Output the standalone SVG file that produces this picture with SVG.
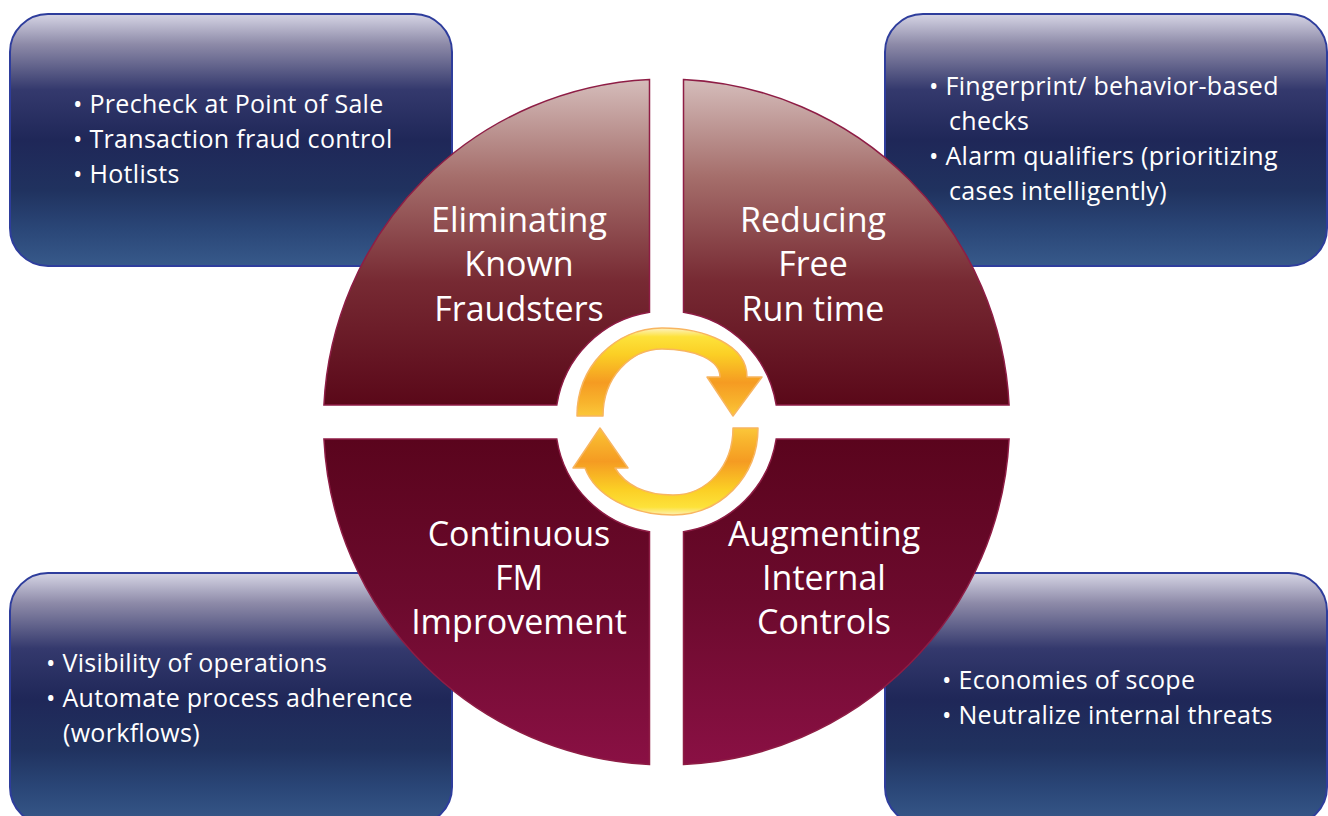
<svg xmlns="http://www.w3.org/2000/svg" width="1328" height="816" viewBox="0 0 1328 816">
<defs>
<linearGradient id="boxGrad" x1="0" y1="0" x2="0" y2="1">
<stop offset="0" stop-color="#d6d5e5"/>
<stop offset="0.12" stop-color="#8d8aa8"/>
<stop offset="0.3" stop-color="#34396d"/>
<stop offset="0.5" stop-color="#1f2758"/>
<stop offset="0.7" stop-color="#20325f"/>
<stop offset="0.85" stop-color="#2a4677"/>
<stop offset="1" stop-color="#37598a"/>
</linearGradient>
<linearGradient id="topQ" gradientUnits="userSpaceOnUse" x1="0" y1="79" x2="0" y2="405">
<stop offset="0" stop-color="#d5bdbb"/>
<stop offset="0.3" stop-color="#a56e6b"/>
<stop offset="0.62" stop-color="#772a33"/>
<stop offset="1" stop-color="#5a0819"/>
</linearGradient>
<linearGradient id="botQ" gradientUnits="userSpaceOnUse" x1="0" y1="439" x2="0" y2="765">
<stop offset="0" stop-color="#5a041d"/>
<stop offset="0.5" stop-color="#6c0a2d"/>
<stop offset="1" stop-color="#8a1044"/>
</linearGradient>
<linearGradient id="arrUp" gradientUnits="userSpaceOnUse" x1="0" y1="328" x2="0" y2="416">
<stop offset="0" stop-color="#fdf2c4"/>
<stop offset="0.1" stop-color="#fde23a"/>
<stop offset="0.3" stop-color="#fbcf25"/>
<stop offset="0.62" stop-color="#f59b22"/>
<stop offset="0.85" stop-color="#f8b42d"/>
<stop offset="1" stop-color="#fbc73a"/>
</linearGradient>
<linearGradient id="arrDn" gradientUnits="userSpaceOnUse" x1="0" y1="516" x2="0" y2="428">
<stop offset="0" stop-color="#fdf2c4"/>
<stop offset="0.1" stop-color="#fde23a"/>
<stop offset="0.3" stop-color="#fbcf25"/>
<stop offset="0.62" stop-color="#f59b22"/>
<stop offset="0.85" stop-color="#f8b42d"/>
<stop offset="1" stop-color="#fbc73a"/>
</linearGradient>
</defs>
<style>
.box{fill:url(#boxGrad);stroke:#2e3d9c;stroke-width:2}
.btxt{font-family:"Open Sans","Noto Sans",sans-serif;font-size:25px;letter-spacing:0.3px;fill:#ffffff}
.quad{stroke:#8e1d45;stroke-width:1.5}
.qtxt{font-family:"Open Sans","Noto Sans",sans-serif;font-size:34px;fill:#ffffff;text-anchor:middle}
.arr{stroke:#f8b560;stroke-width:1.5;stroke-linejoin:round}
</style>
<rect width="1328" height="816" fill="#ffffff"/>

<g id="box-tl">
<rect class="box" x="10" y="14" width="442" height="252" rx="38"/>
<text class="btxt" x="73" y="113">• Precheck at Point of Sale</text>
<text class="btxt" x="73" y="148">• Transaction fraud control</text>
<text class="btxt" x="73" y="183">• Hotlists</text>
</g>
<g id="box-tr">
<rect class="box" x="885" y="14" width="442" height="252" rx="38"/>
<text class="btxt" x="929" y="95">• Fingerprint/ behavior-based</text>
<text class="btxt" x="949" y="130">checks</text>
<text class="btxt" x="929" y="165">• Alarm qualifiers (prioritizing</text>
<text class="btxt" x="949" y="200">cases intelligently)</text>
</g>
<g id="box-bl">
<rect class="box" x="10" y="573" width="442" height="252" rx="38"/>
<text class="btxt" x="46" y="672">• Visibility of operations</text>
<text class="btxt" x="46" y="707">• Automate process adherence</text>
<text class="btxt" x="63" y="742">(workflows)</text>
</g>
<g id="box-br">
<rect class="box" x="885" y="573" width="442" height="252" rx="38"/>
<text class="btxt" x="942" y="689">• Economies of scope</text>
<text class="btxt" x="942" y="724">• Neutralize internal threats</text>
</g>

<g id="quad-tl">
<path class="quad" fill="url(#topQ)" d="M323.92,405 A343,343 0 0 1 649.5,79.42 L649.5,312.31 A111,111 0 0 0 556.81,405 Z"/>
<text class="qtxt" x="519" y="232">Eliminating</text>
<text class="qtxt" x="519" y="276">Known</text>
<text class="qtxt" x="519" y="321">Fraudsters</text>
</g>
<g id="quad-tr">
<path class="quad" fill="url(#topQ)" d="M683.5,79.42 A343,343 0 0 1 1009.08,405 L776.19,405 A111,111 0 0 0 683.5,312.31 Z"/>
<text class="qtxt" x="813" y="232">Reducing</text>
<text class="qtxt" x="813" y="276">Free</text>
<text class="qtxt" x="813" y="321">Run time</text>
</g>
<g id="quad-bl">
<path class="quad" fill="url(#botQ)" d="M649.5,764.58 A343,343 0 0 1 323.92,439 L556.81,439 A111,111 0 0 0 649.5,531.69 Z"/>
<text class="qtxt" x="519" y="546">Continuous</text>
<text class="qtxt" x="519" y="590">FM</text>
<text class="qtxt" x="519" y="634">Improvement</text>
</g>
<g id="quad-br">
<path class="quad" fill="url(#botQ)" d="M1009.08,439 A343,343 0 0 1 683.5,764.58 L683.5,531.69 A111,111 0 0 0 776.19,439 Z"/>
<text class="qtxt" x="824" y="546">Augmenting</text>
<text class="qtxt" x="824" y="590">Internal</text>
<text class="qtxt" x="824" y="634">Controls</text>
</g>

<g id="connectors">
<path class="arr" fill="url(#arrUp)" d="M577,416 C577,367 615,328 662,328 C705,328 747,345 747,377 L762,377 L733,416 L707,377 L720,377 C720,360 695,349 662,349 C630,349 603,378 603,416 Z"/>
<path class="arr" fill="url(#arrDn)" d="M758,428 C758,477 720,515 673,515 C630,515 595,495 585,468 L573,468 L600,428 L628,468 L615,468 C625,485 645,495 673,495 C708,495 733,465 733,428 Z"/>
</g>
</svg>
